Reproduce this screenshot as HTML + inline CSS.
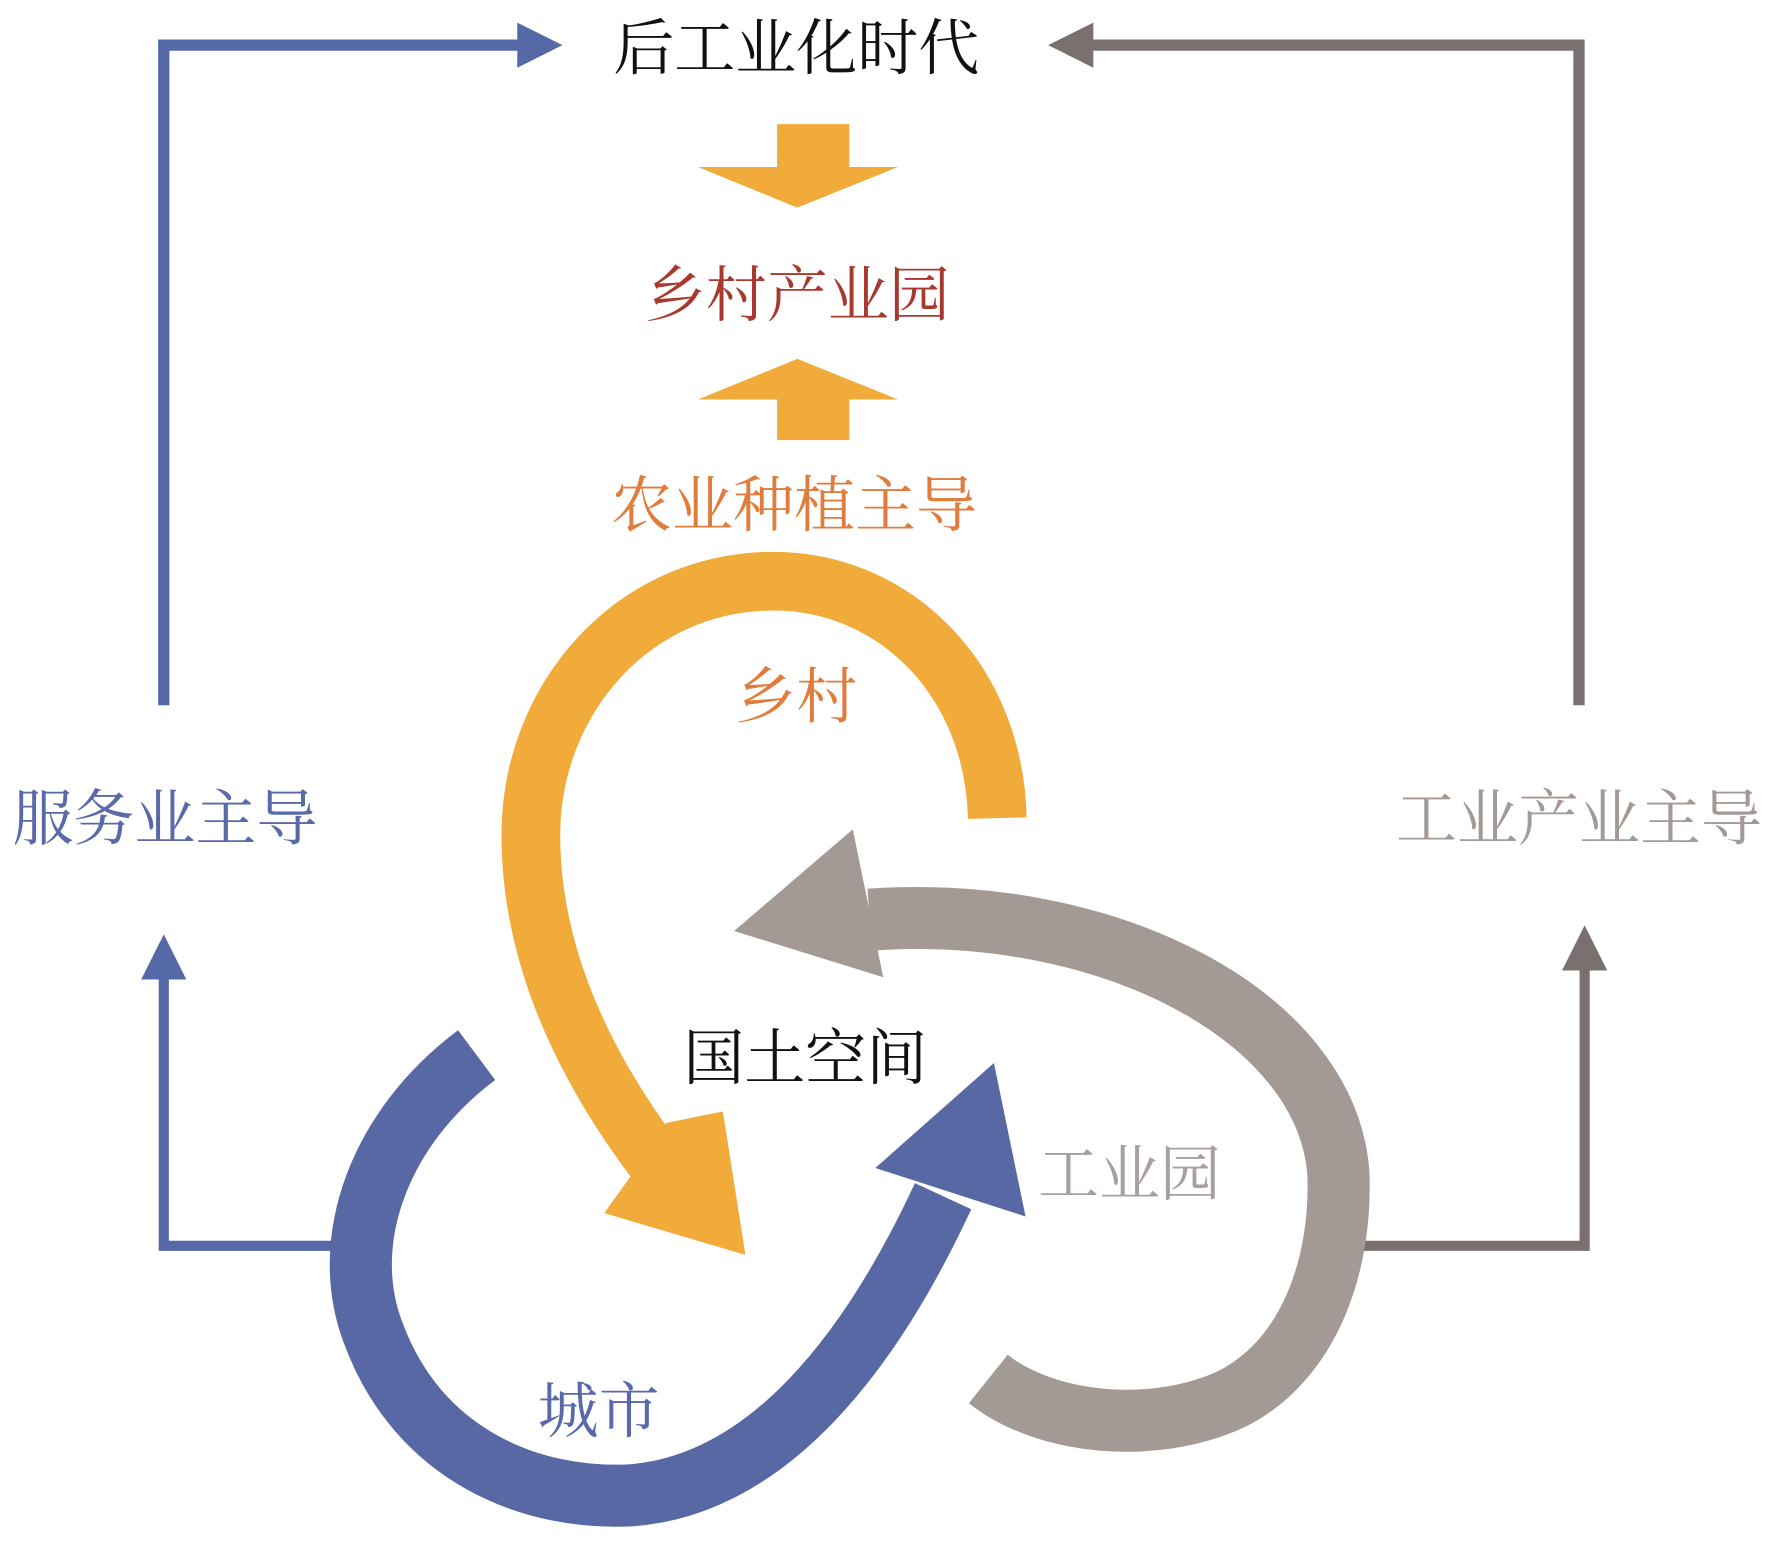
<!DOCTYPE html>
<html><head><meta charset="utf-8"><style>
html,body{margin:0;padding:0;background:#fff;}
svg{display:block;}
text{font-family:"Liberation Serif","Noto Serif CJK SC",serif;}
</style></head><body>
<svg width="1771" height="1546" viewBox="0 0 1568 1370" preserveAspectRatio="none" xmlns="http://www.w3.org/2000/svg">
<polyline points="145,625 145,40 462,40" fill="none" stroke="#5568a8" stroke-width="10"/>
<polygon points="458,20 498,40 458,60" fill="#5568a8"/>
<polyline points="1398,625 1398,40 965,40" fill="none" stroke="#7a7070" stroke-width="10"/>
<polygon points="968,20 928,40 968,60" fill="#7a7070"/>
<polyline points="300,1104 145,1104 145,862" fill="none" stroke="#5568a8" stroke-width="9"/>
<polygon points="125,868 145,828 165,868" fill="#5568a8"/>
<polyline points="1195,1104 1403,1104 1403,855" fill="none" stroke="#7a7070" stroke-width="9"/>
<polygon points="1383,860 1403,820 1423,860" fill="#7a7070"/>
<rect x="688" y="110" width="64" height="40" fill="#f0ab3a"/>
<polygon points="618,148 795,148 706,184" fill="#f0ab3a"/>
<polygon points="618,354 795,354 706,318" fill="#f0ab3a"/>
<rect x="688" y="352" width="64" height="38" fill="#f0ab3a"/>
<path d="M 883 725 C 880 600, 790 515, 685 515 C 560 515, 470 620, 470 740 C 470 850, 520 950, 585 1035" fill="none" stroke="#f0ab3a" stroke-width="52"/>
<polygon points="640,985 660,1112 535,1075 560,1040 590,995" fill="#f0ab3a"/>
<path d="M 875 1222 C 925 1262, 1020 1272, 1090 1240 C 1160 1205, 1188 1120, 1185 1040 C 1175 900, 980 800, 770 815" fill="none" stroke="#a39a96" stroke-width="55"/>
<polygon points="755,735 650,825 782,866" fill="#a39a96"/>
<path d="M 422 935 C 335 1000, 300 1100, 330 1180 C 370 1290, 470 1330, 560 1325 C 680 1315, 770 1200, 835 1060" fill="none" stroke="#5868a4" stroke-width="55"/>
<polygon points="880,942 775,1035 908,1078" fill="#5868a4"/>
<g font-size="54" text-anchor="middle">
<text x="705" y="61" fill="#111">后工业化时代</text>
<text x="706" y="280" fill="#a8392e">乡村产业园</text>
<text x="703" y="466" fill="#e07c3c">农业种植主导</text>
<text x="146" y="744" fill="#5a6aa8">服务业主导</text>
<text x="1398" y="744" fill="#a39a96">工业产业主导</text>
<text x="713" y="956" fill="#111">国土空间</text>
<text x="705" y="636" fill="#e07c3c">乡村</text>
<text x="1000" y="1059" fill="#a8a0a0">工业园</text>
<text x="530" y="1269" fill="#5a6aa8">城市</text>
</g>
</svg>
</body></html>
